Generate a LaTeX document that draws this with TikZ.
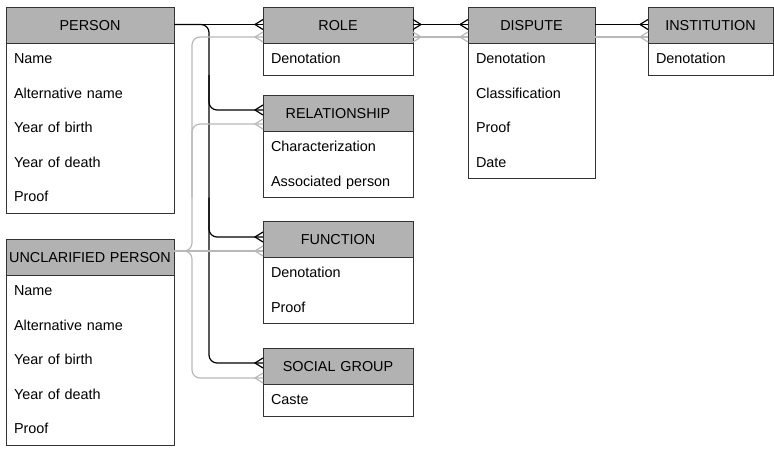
\documentclass[tikz,border=0pt]{standalone}
\usepackage{fontspec}
\setmainfont{Liberation Sans}
\usetikzlibrary{shapes.multipart,decorations.markings}
\newcommand{\hdr}[1]{\rule[-12.5pt]{0pt}{35pt}\makebox[\linewidth]{#1}}
\newcommand{\rowst}{\rule[-11pt]{0pt}{31pt}}
\tikzset{
  rs/.style={rectangle split, rectangle split parts=2, draw=black!80, line width=1pt,
    rectangle split part fill={gray!60,white}, text width=#1, inner xsep=8pt,
    inner ysep=0pt, outer sep=0pt, align=left, anchor=north west,
    font=\fontsize{14.4pt}{34.6pt}\selectfont},
  conn/.style={draw=black, line width=1.2pt},
  gconn/.style={draw=black!28, line width=1.2pt},
  crow/.style={postaction={decorate, decoration={markings, mark=at position 1 with
    {\draw[sharp corners] (0,5pt) -- (-8pt,0) -- (0,-5pt);}}}},
  crow start/.style={postaction={decorate, decoration={markings, mark=at position 0 with
    {\draw[sharp corners] (0,5pt) -- (8pt,0) -- (0,-5pt);}}}}
}

\begin{document}
\begin{tikzpicture}[x=1pt, y=-1pt]
  \useasboundingbox (0,0) rectangle (774,448);

  % entities
  \node[rs=152pt] (PERSON) at (6,7) {\hdr{PERSON}\nodepart{two}\rowst Name\\
    \rowst Alternative name\\\rowst Year of birth\\\rowst Year of death\\\rowst Proof};
  \node[rs=152pt] (UNCL) at (6,239) {\hdr{UNCLARIFIED PERSON}\nodepart{two}\rowst Name\\
    \rowst Alternative name\\\rowst Year of birth\\\rowst Year of death\\\rowst Proof};
  \node[rs=134pt] (ROLE) at (263,7) {\hdr{ROLE}\nodepart{two}\rowst Denotation};
  \node[rs=134pt] (REL) at (263,95) {\hdr{RELATIONSHIP}\nodepart{two}\rowst Characterization\\
    \rowst Associated person};
  \node[rs=134pt] (FUNC) at (263,221) {\hdr{FUNCTION}\nodepart{two}\rowst Denotation\\\rowst Proof};
  \node[rs=134pt] (SOC) at (263,348) {\hdr{SOCIAL GROUP}\nodepart{two}\rowst Caste};
  \node[rs=111pt] (DISP) at (468,7) {\hdr{DISPUTE}\nodepart{two}\rowst Denotation\\
    \rowst Classification\\\rowst Proof\\\rowst Date};
  \node[rs=109pt] (INST) at (648,7) {\hdr{INSTITUTION}\nodepart{two}\rowst Denotation};

  % connector ends
  \coordinate (pb) at ([yshift=-17.5pt]PERSON.north east);
  \coordinate (ROLE-b) at ([yshift=-17.5pt]ROLE.north west);
  \coordinate (ROLE-g) at ([yshift=-30pt]ROLE.north west);
  \coordinate (REL-b) at ([yshift=-15pt]REL.north west);
  \coordinate (REL-g) at ([yshift=-29pt]REL.north west);
  \coordinate (FUNC-b) at ([yshift=-16pt]FUNC.north west);
  \coordinate (FUNC-g) at ([yshift=-30pt]FUNC.north west);
  \coordinate (SOC-b) at ([yshift=-15pt]SOC.north west);
  \coordinate (SOC-g) at ([yshift=-30pt]SOC.north west);
  \coordinate (ug) at (UNCL.east |- FUNC-g);
  \coordinate (bx) at (209,0);
  \coordinate (gx) at (192,0);

  % person
  \draw[conn, crow] (pb) -- (ROLE-b);
  \draw[conn, crow, rounded corners=8pt] (pb) -| (bx |- SOC-b) -- (SOC-b);
  \draw[conn, crow, rounded corners=8pt] (bx |- ROLE.south) |- (REL-b);
  \draw[conn, crow, rounded corners=8pt] (bx |- REL.south) |- (FUNC-b);

  % unclarified person
  \draw[gconn, crow, rounded corners=8pt] (ug) -| (gx |- ROLE-g) -- (ROLE-g);
  \draw[gconn, crow, rounded corners=8pt] (ug) -| (gx |- SOC-g) -- (SOC-g);
  \draw[gconn, crow, rounded corners=8pt] (gx |- REL.south) |- (REL-g);
  \draw[gconn, crow] (ug) -- (FUNC-g);

  % role, dispute, institution
  \draw[conn, crow start, crow] (ROLE-b -| ROLE.east) -- (ROLE-b -| DISP.west);
  \draw[gconn, crow start, crow] (ROLE-g -| ROLE.east) -- (ROLE-g -| DISP.west);
  \draw[conn, crow] (ROLE-b -| DISP.east) -- (ROLE-b -| INST.west);
  \draw[gconn, crow] (ROLE-g -| DISP.east) -- (ROLE-g -| INST.west);
\end{tikzpicture}
\end{document}
